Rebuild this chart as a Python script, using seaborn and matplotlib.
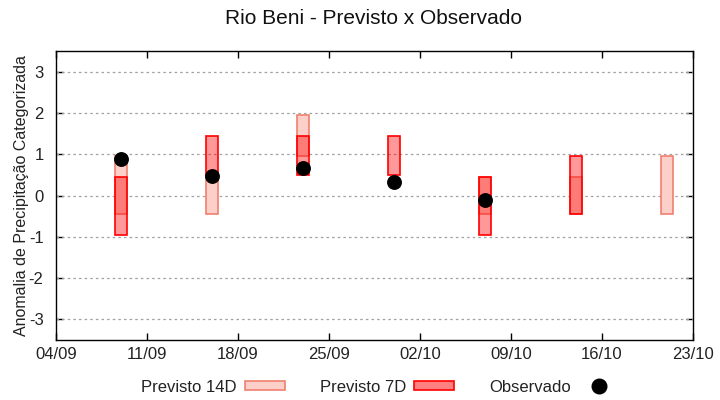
import matplotlib
matplotlib.use("Agg")
import matplotlib.pyplot as plt
import matplotlib.dates as mdates
from matplotlib.patches import Patch
from matplotlib.lines import Line2D
import numpy as np
import pandas as pd
import seaborn as sns

# ---- data ----
dates = ["2023-09-09", "2023-09-16", "2023-09-23", "2023-09-30",
         "2023-10-07", "2023-10-14", "2023-10-21"]
p14_low = [-0.45, -0.45, 0.95, np.nan, -0.45, -0.45, -0.45]
p14_high = [0.95, 0.45, 1.95, np.nan, 0.45, 0.45, 0.95]
p7_low = [-0.95, 0.45, 0.50, 0.50, -0.95, -0.45, np.nan]
p7_high = [0.45, 1.45, 1.45, 1.45, 0.45, 0.95, np.nan]
obs_dates = ["2023-09-09", "2023-09-16", "2023-09-23", "2023-09-30", "2023-10-07"]
obs_vals = [0.88, 0.48, 0.66, 0.32, -0.10]
xtick_dates = pd.date_range("2023-09-04", "2023-10-23", freq="7D")
yticks = [-3, -2, -1, 0, 1, 2, 3]

title = "Rio Beni - Previsto x Observado"
ylabel = "Anomalia de Precipitação Categorizada"

sns.set_theme(style="white")
plt.rcParams["font.family"] = ["Liberation Sans", "DejaVu Sans"]

df = pd.DataFrame({"date": pd.to_datetime(dates),
                   "p14_low": p14_low, "p14_high": p14_high,
                   "p7_low": p7_low, "p7_high": p7_high})
obs = pd.DataFrame({"date": pd.to_datetime(obs_dates), "obs": obs_vals})

fig = plt.figure(figsize=(7.2, 4.0), dpi=100)
ax = fig.add_axes([56/720, 1-340/400, (693-56)/720, (340-51)/400])

c14_face = "#fccfc8"
c14_edge = "#f0806f"
c7_face = (1.0, 0.0, 0.0, 0.40)
c7_edge = "#ff0000"
width = 0.9

d14 = df.dropna(subset=["p14_low"])
ax.bar(d14["date"], d14["p14_high"] - d14["p14_low"], bottom=d14["p14_low"],
       width=width, color=c14_face, edgecolor=c14_edge, linewidth=1.2, zorder=2)
d7 = df.dropna(subset=["p7_low"])
ax.bar(d7["date"], d7["p7_high"] - d7["p7_low"], bottom=d7["p7_low"],
       width=width, color=c7_face, edgecolor=c7_edge, linewidth=1.2, zorder=3)

sns.scatterplot(data=obs, x="date", y="obs", ax=ax, color="black", s=115,
                edgecolor="black", linewidth=0, zorder=4, legend=False)

ax.set_xlim(xtick_dates[0], xtick_dates[-1])
ax.set_ylim(-3.5, 3.5)
ax.set_xticks(xtick_dates)
ax.xaxis.set_major_formatter(mdates.DateFormatter("%d/%m"))
ax.set_yticks(yticks)
ax.set_yticklabels([str(v) for v in yticks])

for v in yticks:
    ax.axhline(v, color="#a0a0a0", linestyle=(0, (2, 2.5)), linewidth=0.9, zorder=1)

for s in ax.spines.values():
    s.set_color("black")
    s.set_linewidth(1.0)
ax.tick_params(axis="both", which="major", direction="in", length=5, width=1,
               colors="black", labelsize=12, top=True, right=True,
               bottom=True, left=True)
ax.tick_params(axis="y", pad=9)
ax.tick_params(axis="x", pad=5)
for lab in ax.get_xticklabels() + ax.get_yticklabels():
    lab.set_color("#222222")

ax.set_xlabel("")
ax.set_ylabel(ylabel, fontsize=11.5, color="#222222", labelpad=0)
fig.text(373/720, 1-19/400, title, ha="center", va="center", fontsize=15, color="#111111")

handles = [Patch(facecolor=c14_face, edgecolor=c14_edge, linewidth=1.2),
           Patch(facecolor="#ff8080", edgecolor=c7_edge, linewidth=1.2),
           Line2D([], [], marker="o", color="black", linestyle="none", markersize=10.5)]
fig.legend(handles, ["Previsto 14D", "Previsto 7D", "Observado"],
           loc="center", bbox_to_anchor=(0.528, 1-387/400), ncol=3, frameon=False,
           markerfirst=False, fontsize=12, handlelength=2.4, handleheight=0.45,
           handletextpad=0.5, columnspacing=2.1, labelcolor="#222222")

fig.savefig("out.png", dpi=100)
